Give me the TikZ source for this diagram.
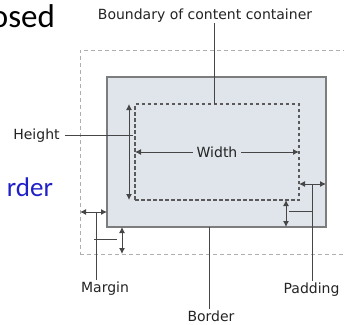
\documentclass[tikz,border=0pt]{standalone}
\usepackage{fontspec}
\usetikzlibrary{arrows.meta}
\newfontfamily\slidefont{Carlito}
\newfontfamily\labelfont{DejaVu Sans}
\definecolor{boxfill}{RGB}{223,229,234}
\definecolor{boxline}{RGB}{125,125,125}
\definecolor{contentline}{RGB}{90,90,90}
\definecolor{marginline}{RGB}{175,175,175}
\definecolor{leadline}{RGB}{70,70,70}
\definecolor{labelgray}{RGB}{35,35,35}
\definecolor{slideblue}{RGB}{32,32,200}
\begin{document}
\begin{tikzpicture}[
 x=1pt, y=-1pt,
 >={Latex[length=6pt,width=6pt]},
 outer sep=0pt,
 marginbox/.style={draw=marginline,line width=1pt,dash pattern=on 4pt off 3pt,rectangle,minimum width=273pt,minimum height=204pt},
 borderbox/.style={draw=boxline,fill=boxfill,line width=2pt,rectangle,minimum width=219pt,minimum height=150pt},
 contentbox/.style={draw=contentline,line width=1.3pt,dash pattern=on 3.5pt off 2.5pt,rectangle,minimum width=164pt,minimum height=96pt},
 label/.style={anchor=base,inner sep=1.5pt,text=labelgray,font=\labelfont\fontsize{14}{16}\selectfont},
 lead/.style={draw=leadline,line width=1pt},
 dim/.style={lead,<->}
]
\useasboundingbox (0,0) rectangle (344,324);
\clip (0,0) rectangle (344,324);
\node (title-text) [anchor=base east,inner sep=0pt,font=\slidefont\fontsize{33}{36}\selectfont] at (55,27) {osed};
\node (item-text) [anchor=base east,inner sep=0pt,text=slideblue,font=\slidefont\fontsize{27}{30}\selectfont] at (53,196) {rder};
\node (margin-box) [marginbox] at (216.5,152) {};
\node (border-box) [borderbox] at (216.5,152) {};
\node (content-box) [contentbox] at (217,152) {};
\node (boundary-label) [label] at (205,19) {Boundary of content container};
\node (height-label) [label] at (36.5,139) {Height};
\node (margin-label) [label] at (105,292) {Margin};
\node (padding-label) [label] at (311.5,293) {Padding};
\node (border-label) [label] at (211,321) {Border};
% content
\coordinate (boundary-end) at ([xshift=-3pt]content-box.north);
\draw [lead] (boundary-end |- boundary-label.south) -- (boundary-end);
\coordinate (height-top) at ([xshift=-6pt]content-box.north west);
\coordinate (height-bottom) at ([xshift=-6pt]content-box.south west);
\draw [dim] (height-top) -- (height-bottom);
\draw [lead] ([xshift=4pt]height-label.east) -- ([xshift=4pt]height-label.east -| height-top);
\draw [dim] (content-box.west) -- node [fill=boxfill,inner sep=4pt,text=labelgray,font=\labelfont\fontsize{14}{16}\selectfont] {Width} (content-box.east);
% margin
\coordinate (margin-h) at (0,212);
\coordinate (margin-v) at (122,0);
\draw [dim] (margin-box.west |- margin-h) -- (border-box.west |- margin-h);
\draw [dim] (border-box.south -| margin-v) -- (margin-box.south -| margin-v);
\coordinate (margin-lead) at (96,212);
\coordinate (margin-tick-a) at (94,239);
\coordinate (margin-tick-b) at (117,239);
\draw [lead] (margin-lead) -- (margin-lead |- margin-label.north);
\draw [lead] (margin-tick-a) -- (margin-tick-b);
% padding
\coordinate (padding-h) at (0,184);
\coordinate (padding-v) at (286,0);
\draw [dim] (content-box.east |- padding-h) -- (border-box.east |- padding-h);
\draw [dim] (content-box.south -| padding-v) -- (border-box.south -| padding-v);
\coordinate (padding-lead) at (312,184);
\coordinate (padding-tick) at (289,211);
\draw [lead] (padding-lead) -- (padding-lead |- padding-label.north);
\draw [lead] (padding-tick) -- (padding-tick -| padding-lead);
% border
\coordinate (border-lead) at ([xshift=-7.5pt]border-box.south);
\draw [lead] (border-lead) -- (border-lead |- border-label.north);
\end{tikzpicture}
\end{document}
